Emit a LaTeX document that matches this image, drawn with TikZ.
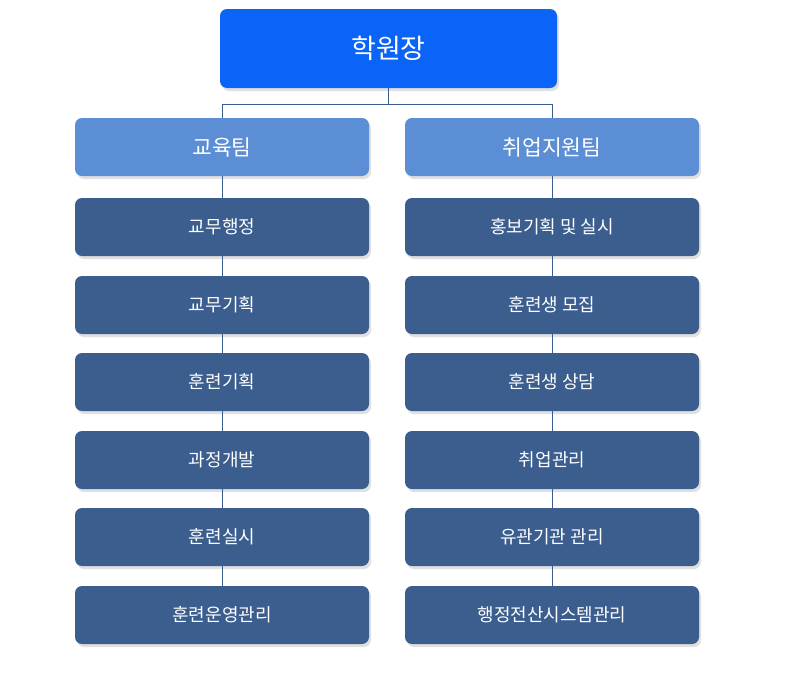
\documentclass[tikz,border=0pt]{standalone}
\usepackage{fontspec}
\setmainfont{Noto Sans CJK KR}
\usetikzlibrary{shadows}
\definecolor{topblue}{HTML}{0A64F8}
\definecolor{teamblue}{HTML}{5B8ED4}
\definecolor{subblue}{HTML}{3B5E8F}
\definecolor{lineblue}{HTML}{3B5E8F}
\tikzset{
  boxbase/.style={rounded corners=7pt, inner sep=0pt, text=white, align=center,
    drop shadow={shadow xshift=2pt, shadow yshift=-3pt, fill=black, opacity=0.12}},
  topbox/.style={boxbase, fill=topblue, minimum width=337pt, minimum height=79pt, font=\fontsize{27}{31}\selectfont},
  teambox/.style={boxbase, fill=teamblue, minimum width=294pt, minimum height=58pt, font=\fontsize{21.5}{25}\selectfont},
  subbox/.style={boxbase, fill=subblue, minimum width=294pt, minimum height=58pt, font=\fontsize{18}{21}\selectfont},
  conn/.style={draw=lineblue, line width=0.9pt}
}
\begin{document}
\begin{tikzpicture}[x=1pt,y=-1pt]
\useasboundingbox (0,0) rectangle (788,675);
\fill[white] (0,0) rectangle (788,675);
\coordinate (j) at (388.5,104);
\node[topbox] (top) at (388.5,48.5) {학원장};
\node[teambox] (L0) at (222,147) {교육팀};
\node[teambox] (R0) at (552,147) {취업지원팀};
\foreach \i/\y/\lt/\rt in {1/227/교무행정/홍보기획 및 실시, 2/305/교무기획/훈련생 모집, 3/382/훈련기획/훈련생 상담, 4/460/과정개발/취업관리, 5/537/훈련실시/유관기관 관리, 6/615/훈련운영관리/행정전산시스템관리}{
  \node[subbox] (L\i) at (222,\y) {\lt};
  \node[subbox] (R\i) at (552,\y) {\rt};
}
\draw[conn] (top.south) -- (j);
\draw[conn] (j) -| (L0.north);
\draw[conn] (j) -| (R0.north);
\foreach \a/\b in {0/1,1/2,2/3,3/4,4/5,5/6}{
  \draw[conn] (L\a.south) -- (L\b.north);
  \draw[conn] (R\a.south) -- (R\b.north);
}
\end{tikzpicture}
\end{document}
